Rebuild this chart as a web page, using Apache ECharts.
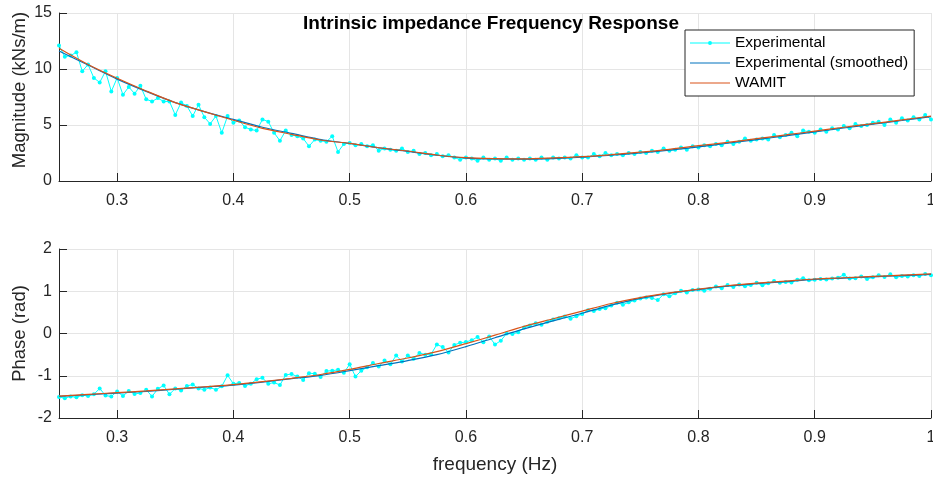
<!DOCTYPE html>
<html>
<head>
<meta charset="utf-8">
<title>Intrinsic impedance Frequency Response</title>
<script src="https://cdn.jsdelivr.net/npm/echarts@6/dist/echarts.min.js"></script>
<style>
  html, body {margin:0; padding:0; background:#fff;}
  #chart {width:933px; height:479px;}
</style>
</head>
<body>
<div id="chart"></div>
<script type="text/javascript">
// sampling of the experimental record (Hz)
var expStart = 0.25, expStep = 0.005, expCount = 151;
// sampling of the smooth curves (Hz)
var curveFreq = [0.25, 0.275, 0.3, 0.325, 0.35, 0.375, 0.4, 0.425, 0.45, 0.475, 0.5,
  0.525, 0.55, 0.575, 0.6, 0.625, 0.65, 0.675, 0.7, 0.725, 0.75,
  0.775, 0.8, 0.825, 0.85, 0.875, 0.9, 0.925, 0.95, 0.975, 1.0];

// magnitude (kNs/m)
var magExp = [12.1, 11.1, 11.2, 11.5, 9.8, 10.4, 9.2, 8.8, 9.8, 8.0,
  9.2, 7.7, 8.4, 7.8, 8.5, 7.3, 7.1, 7.4, 7.1, 7.1,
  5.9, 7.0, 6.7, 5.8, 6.8, 5.7, 5.1, 5.8, 4.3, 5.8,
  5.2, 5.4, 4.8, 4.6, 4.5, 5.5, 5.3, 4.3, 3.6, 4.5,
  4.1, 4.0, 3.8, 3.1, 3.7, 3.6, 3.5, 4.0, 2.6, 3.3,
  3.4, 3.2, 3.3, 3.1, 3.2, 2.7, 2.9, 2.8, 2.7, 2.9,
  2.6, 2.7, 2.4, 2.5, 2.3, 2.4, 2.2, 2.3, 2.1, 1.9,
  2.1, 2.0, 1.8, 2.1, 1.9, 2.0, 1.8, 2.1, 1.9, 2.0,
  1.9, 2.0, 1.9, 2.1, 1.9, 2.1, 2.0, 2.1, 2.0, 2.3,
  2.1, 2.1, 2.4, 2.2, 2.5, 2.3, 2.4, 2.3, 2.5, 2.4,
  2.6, 2.5, 2.7, 2.6, 2.9, 2.7, 2.8, 3.0, 2.8, 3.1,
  3.0, 3.2, 3.1, 3.3, 3.2, 3.5, 3.3, 3.5, 3.8, 3.6,
  3.7, 3.8, 3.7, 4.1, 3.9, 4.1, 4.3, 4.0, 4.5, 4.4,
  4.3, 4.6, 4.4, 4.7, 4.6, 4.9, 4.7, 5.1, 4.9, 5.0,
  5.2, 5.3, 5.0, 5.5, 5.2, 5.6, 5.4, 5.7, 5.5, 5.9,
  5.5];
var magSmooth = [11.6, 10.35, 9.1, 8.0, 7.0, 6.2, 5.5, 4.8, 4.25, 3.7, 3.35,
  2.95, 2.65, 2.3, 2.05, 1.97, 1.95, 2.0, 2.12, 2.3, 2.5,
  2.75, 3.05, 3.37, 3.7, 4.03, 4.38, 4.73, 5.07, 5.4, 5.75];
var magWamit = [11.85, 10.4, 9.17, 8.04, 7.0, 6.19, 5.42, 4.7, 4.17, 3.66, 3.36,
  2.97, 2.68, 2.32, 2.08, 2.0, 1.98, 2.06, 2.18, 2.36, 2.58,
  2.83, 3.15, 3.45, 3.78, 4.11, 4.46, 4.8, 5.12, 5.45, 5.8];

// phase (rad)
var phaseExp = [-1.50, -1.53, -1.49, -1.51, -1.46, -1.48, -1.44, -1.30, -1.47, -1.49,
  -1.37, -1.48, -1.36, -1.43, -1.41, -1.33, -1.49, -1.31, -1.23, -1.44,
  -1.30, -1.35, -1.24, -1.21, -1.30, -1.33, -1.28, -1.33, -1.25, -0.99,
  -1.19, -1.17, -1.24, -1.19, -1.08, -1.05, -1.19, -1.16, -1.22, -0.98,
  -0.96, -1.02, -1.10, -0.94, -0.95, -1.03, -0.89, -0.88, -0.86, -0.93,
  -0.73, -1.02, -0.88, -0.80, -0.70, -0.78, -0.64, -0.73, -0.52, -0.66,
  -0.52, -0.60, -0.46, -0.50, -0.49, -0.26, -0.32, -0.45, -0.27, -0.22,
  -0.20, -0.16, -0.08, -0.21, -0.07, -0.26, -0.17, 0.00, -0.01, 0.03,
  0.14, 0.19, 0.24, 0.21, 0.28, 0.33, 0.36, 0.40, 0.35, 0.41,
  0.46, 0.55, 0.53, 0.58, 0.60, 0.66, 0.73, 0.68, 0.74, 0.78,
  0.83, 0.85, 0.84, 0.79, 0.93, 0.88, 0.95, 1.01, 0.97, 1.03,
  1.04, 1.01, 1.06, 1.11, 1.07, 1.15, 1.10, 1.16, 1.12, 1.15,
  1.20, 1.14, 1.19, 1.24, 1.20, 1.22, 1.21, 1.27, 1.31, 1.26,
  1.27, 1.29, 1.28, 1.30, 1.32, 1.39, 1.30, 1.31, 1.35, 1.29,
  1.33, 1.38, 1.34, 1.40, 1.33, 1.36, 1.35, 1.38, 1.36, 1.41,
  1.38];
var phaseSmooth = [-1.49, -1.45, -1.41, -1.37, -1.32, -1.27, -1.22, -1.15, -1.07, -0.99, -0.88,
  -0.76, -0.64, -0.50, -0.31, -0.10, 0.11, 0.30, 0.48, 0.67, 0.83,
  0.95, 1.04, 1.12, 1.18, 1.23, 1.28, 1.31, 1.34, 1.37, 1.40];
var phaseWamit = [-1.48, -1.44, -1.40, -1.36, -1.31, -1.26, -1.21, -1.14, -1.06, -0.97, -0.85,
  -0.71, -0.58, -0.43, -0.24, -0.04, 0.17, 0.35, 0.53, 0.71, 0.85,
  0.96, 1.05, 1.13, 1.19, 1.24, 1.29, 1.32, 1.35, 1.38, 1.41];

var expFreq = [];
for (var i = 0; i < expCount; i++) {
  expFreq.push(Math.round((expStart + i * expStep) * 1000) / 1000);
}

function pairs(xs, ys) {
  return ys.map(function (v, k) { return [xs[k], v]; });
}

var axisColor = '#262626';
var gridColor = '#e5e5e5';
var font = 'Liberation Sans, Arial, Helvetica, sans-serif';

function xAxisOf(idx, name) {
  return {
    type: 'value', gridIndex: idx, min: 0.25, max: 1, splitNumber: 8,
    name: name, nameLocation: 'middle', nameGap: 37,
    nameTextStyle: {color: axisColor, fontSize: 19, fontFamily: font},
    axisLine: {show: true, onZero: false, lineStyle: {color: axisColor, width: 1}},
    axisTick: {show: true, inside: true, length: 8, lineStyle: {color: axisColor}},
    axisLabel: {color: axisColor, fontSize: 16, fontFamily: font, margin: 12, showMinLabel: false},
    splitLine: {show: true, lineStyle: {color: gridColor, width: 1}}
  };
}

function yAxisOf(idx, name, namePad, min, max, step) {
  return {
    type: 'value', gridIndex: idx, min: min, max: max, interval: step,
    name: name, nameLocation: 'middle', nameGap: 30, nameMoveOverlap: false,
    nameTextStyle: {color: axisColor, fontSize: 18.5, fontFamily: font, padding: namePad},
    axisLine: {show: true, lineStyle: {color: axisColor, width: 1}},
    axisTick: {show: true, inside: true, length: 8, lineStyle: {color: axisColor}},
    axisLabel: {color: axisColor, fontSize: 16, fontFamily: font, margin: 7},
    splitLine: {show: true, lineStyle: {color: gridColor, width: 1}}
  };
}

function expSeries(idx, data) {
  return {
    name: 'Experimental', type: 'line', xAxisIndex: idx, yAxisIndex: idx,
    data: data, showSymbol: true, showAllSymbol: true, symbol: 'circle', symbolSize: 4,
    lineStyle: {color: '#00ffff', width: 1}, itemStyle: {color: '#00ffff'},
    emphasis: {disabled: true}, z: 2
  };
}

function curveSeries(idx, name, color, data, z) {
  return {
    name: name, type: 'line', xAxisIndex: idx, yAxisIndex: idx,
    data: data, symbol: 'none', smooth: 0.3,
    lineStyle: {color: color, width: 1.2}, itemStyle: {color: color},
    emphasis: {disabled: true}, z: z
  };
}

// legend glyph: thin line with a small dot in the middle
var dotLineIcon = 'path://M0,9.5 L40,9.5 L40,10.5 L0,10.5 Z M18,10 A2,2 0 1 1 22,10 A2,2 0 1 1 18,10 Z';
var lineIcon = 'path://M0,9.5 L40,9.5 L40,10.5 L0,10.5 Z';

var chart = echarts.init(document.getElementById('chart'));
chart.setOption({
  animation: false,
  backgroundColor: '#ffffff',
  title: {
    text: 'Intrinsic impedance Frequency Response',
    left: 486, top: 9, textAlign: 'center',
    textStyle: {color: '#000', fontSize: 19, fontWeight: 'bold', fontFamily: font}
  },
  legend: {
    orient: 'vertical', left: 685, top: 30,
    backgroundColor: '#ffffff', borderColor: axisColor, borderWidth: 1,
    padding: [5, 6, 5, 5], itemGap: 4, itemWidth: 40, itemHeight: 17,
    textStyle: {color: '#000', fontSize: 15.5, fontFamily: font},
    data: [
      {name: 'Experimental', icon: dotLineIcon},
      {name: 'Experimental (smoothed)', icon: lineIcon},
      {name: 'WAMIT', icon: lineIcon}
    ]
  },
  grid: [
    {left: 59, right: 2, top: 13, height: 168, outerBoundsMode: 'none', containLabel: false},
    {left: 59, right: 2, top: 249, height: 169, outerBoundsMode: 'none', containLabel: false}
  ],
  xAxis: [xAxisOf(0, ''), xAxisOf(1, 'frequency (Hz)')],
  yAxis: [
    yAxisOf(0, 'Magnitude (kNs/m)', [0, 0, 0, 14], 0, 15, 5),
    yAxisOf(1, 'Phase (rad)', 0, -2, 2, 1)
  ],
  series: [
    expSeries(0, pairs(expFreq, magExp)),
    curveSeries(0, 'Experimental (smoothed)', '#0072bd', pairs(curveFreq, magSmooth), 3),
    curveSeries(0, 'WAMIT', '#d95319', pairs(curveFreq, magWamit), 4),
    expSeries(1, pairs(expFreq, phaseExp)),
    curveSeries(1, 'Experimental (smoothed)', '#0072bd', pairs(curveFreq, phaseSmooth), 3),
    curveSeries(1, 'WAMIT', '#d95319', pairs(curveFreq, phaseWamit), 4)
  ]
});
</script>
</body>
</html>
